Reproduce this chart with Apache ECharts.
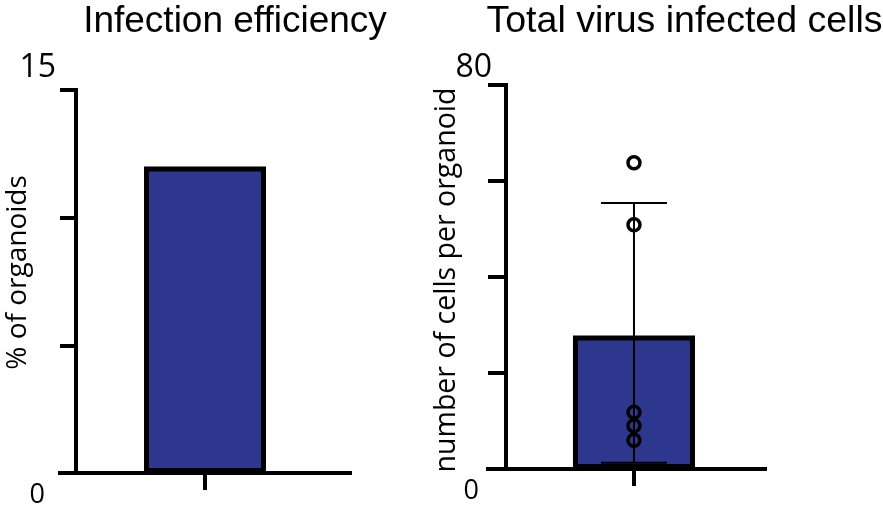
<!DOCTYPE html>
<html>
<head>
<meta charset="utf-8">
<script src="https://cdn.jsdelivr.net/npm/echarts@6.0.0/dist/echarts.min.js"></script>
<style>
  html, body { margin: 0; padding: 0; background: #fff; }
  #chart { width: 883px; height: 507px; }
</style>
</head>
<body>
<div id="chart"></div>
<script>
// Panel text
const panelTitles = ['Infection efficiency', 'Total virus infected cells'];
const yAxisNames = ['% of organoids', 'number of cells per organoid'];

// Y scales: [max, step] per panel, and the only tick values that carry a label
const yMax = [15, 80];
const yStep = [5, 20];
const yLabelledTicks = [[0, 15], [0, 80]];

// Infection efficiency (% of organoids)
const efficiencyPct = [12];

// Virus infected cells per organoid: individual organoids, mean and SD range
const cellsPerOrganoid = [63.8, 50.9, 11.8, 9.0, 6.0];
const cellsMean = [27.8];
const cellsSdLow = [1.3];
const cellsSdHigh = [55.4];

// Layout (pixels) and where the single group sits along each x axis
const grids = [
  { left: 60, top: 90, width: 290, height: 383, outerBoundsMode: 'none' },
  { left: 488, top: 85, width: 277, height: 384, outerBoundsMode: 'none' }
];
const yAxisShift = [-16, -18];
const groupPos = [0.5, 0.527];
const titleCenters = [235, 684.5];
const labelMargin = [20, 14];
const topLabelGap = [44, 34];
const zeroLabelShift = [11, 13];
const nameGaps = [44, 45];
const nameSizes = [28, 28.5];
const namePadding = [[0, 0, 0, 18], [0, 6, 0, 0]];

const BAR_BLUE = '#2d378e';
const INK = '#000';
const NUM_FONT = 'Open Sans';

function yAxisFor(i) {
  const top = yLabelledTicks[i][1];
  return {
    type: 'value', gridIndex: i, min: 0, max: yMax[i], interval: yStep[i],
    offset: yAxisShift[i],
    name: yAxisNames[i], nameLocation: 'middle', nameRotate: 90,
    nameGap: nameGaps[i], nameMoveOverlap: false,
    nameTextStyle: { fontFamily: 'Open Sans', fontSize: nameSizes[i], color: INK, padding: namePadding[i] },
    axisLine: { show: true, lineStyle: { color: INK, width: 4, cap: 'square' } },
    axisTick: { show: true, length: -yAxisShift[i], lineStyle: { color: INK, width: 4 } },
    splitLine: { show: false },
    axisLabel: {
      margin: labelMargin[i],
      hideOverlap: false,
      formatter: v => {
        if (v === top) return '{big|' + v + '}\n{gap| }';
        if (v === yLabelledTicks[i][0]) return '{gap2| }\n{small|' + v + '}';
        return '';
      },
      rich: {
        big: { fontFamily: NUM_FONT, fontSize: 32, color: INK, lineHeight: 40 },
        gap: { fontSize: 10, lineHeight: topLabelGap[i] },
        gap2: { fontSize: 10, lineHeight: 45 },
        small: { fontFamily: NUM_FONT, fontSize: 27, color: INK, lineHeight: 34,
                 padding: [0, zeroLabelShift[i], 0, 0] }
      }
    }
  };
}

function xAxisFor(i) {
  return {
    type: 'value', gridIndex: i, min: 0, max: 1,
    axisLine: { show: true, onZero: false, lineStyle: { color: INK, width: 4, cap: 'square' } },
    axisTick: { show: true, length: 17, customValues: [groupPos[i]], lineStyle: { color: INK, width: 4 } },
    axisLabel: { show: false },
    splitLine: { show: false }
  };
}

const errorBar = {
  type: 'custom', xAxisIndex: 1, yAxisIndex: 1, z: 3,
  encode: { x: 0, y: [1, 2] },
  data: cellsMean.map((m, k) => [groupPos[1], cellsSdLow[k], cellsSdHigh[k]]),
  renderItem: (params, api) => {
    const x = api.value(0);
    const lo = api.coord([x, api.value(1)]);
    const hi = api.coord([x, api.value(2)]);
    const half = 33;
    const st = { stroke: INK, lineWidth: 2 };
    return {
      type: 'group', children: [
        { type: 'line', shape: { x1: lo[0], y1: lo[1], x2: hi[0], y2: hi[1] }, style: st },
        { type: 'line', shape: { x1: hi[0] - half, y1: hi[1], x2: hi[0] + half, y2: hi[1] }, style: st },
        { type: 'line', shape: { x1: lo[0] - half, y1: lo[1], x2: lo[0] + half, y2: lo[1] }, style: st }
      ]
    };
  }
};

const option = {
  backgroundColor: '#fff',
  animation: false,
  title: panelTitles.map((t, i) => ({
    text: t, left: titleCenters[i], top: 3, textAlign: 'center', padding: 0,
    textStyle: { fontFamily: 'Liberation Sans', fontSize: i === 0 ? 37 : 37.5, fontWeight: 'normal', color: INK }
  })),
  grid: grids,
  xAxis: [xAxisFor(0), xAxisFor(1)],
  yAxis: [yAxisFor(0), yAxisFor(1)],
  series: [
    {
      type: 'bar', xAxisIndex: 0, yAxisIndex: 0, barWidth: 122, z: 2,
      data: efficiencyPct.map(v => [groupPos[0], v]),
      itemStyle: { color: BAR_BLUE, borderColor: INK, borderWidth: 5 }
    },
    {
      type: 'bar', xAxisIndex: 1, yAxisIndex: 1, barWidth: 122, z: 2,
      data: cellsMean.map(v => [groupPos[1], v]),
      itemStyle: { color: BAR_BLUE, borderColor: INK, borderWidth: 5 }
    },
    errorBar,
    {
      type: 'scatter', xAxisIndex: 1, yAxisIndex: 1, z: 4,
      symbol: 'circle', symbolSize: 12,
      data: cellsPerOrganoid.map(v => [groupPos[1], v]),
      itemStyle: { color: 'rgba(0,0,0,0)', borderColor: INK, borderWidth: 3.5, opacity: 1 }
    }
  ]
};

const chart = echarts.init(document.getElementById('chart'), null, { renderer: 'canvas' });
chart.setOption(option);
</script>
</body>
</html>
